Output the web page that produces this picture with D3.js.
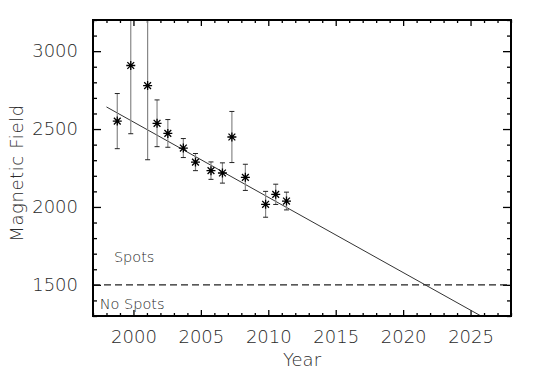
<!DOCTYPE html>
<html>
<head>
<meta charset="utf-8">
<script src="https://cdn.jsdelivr.net/npm/d3@7"></script>
<style>
  body { margin: 0; background: #fff; }
  text { font-family: "DejaVu Sans", sans-serif; font-weight: 200; fill: #2a2a2a; }
  .axis path { display: none; }
  .axis line { stroke: #000; stroke-width: 1.3; }
</style>
</head>
<body>
<div id="wrapper"></div>
<script>
// Data
const years  = [1998.8, 1999.8, 2001.05, 2001.75, 2002.55, 2003.7, 2004.6, 2005.75, 2006.6, 2007.3, 2008.3, 2009.8, 2010.55, 2011.35];
const fields = [2551, 2908, 2779, 2537, 2472, 2378, 2288, 2233, 2218, 2449, 2190, 2017, 2081, 2038];
const errors = [177, 438, 476, 150, 89, 61, 55, 56, 65, 164, 84, 83, 65, 57];

const fitYears  = [1998, 2026.5];
const fitFields = [2642, 1265];

const threshold = 1500;

const xMajorTicks = [2000, 2005, 2010, 2015, 2020, 2025];
const yMajorTicks = [1500, 2000, 2500, 3000];
const xMinorTicks = d3.range(1997, 2029, 1).filter(d => !xMajorTicks.includes(d));
const yMinorTicks = d3.range(1300, 3201, 100).filter(d => !yMajorTicks.includes(d));

function drawChart() {
  const dimensions = {
    width: 550,
    height: 376,
    margin: { top: 20, right: 39, bottom: 60, left: 93 },
  };
  dimensions.boundedWidth = dimensions.width - dimensions.margin.left - dimensions.margin.right;
  dimensions.boundedHeight = dimensions.height - dimensions.margin.top - dimensions.margin.bottom;

  const svg = d3.select("#wrapper")
    .append("svg")
      .attr("width", dimensions.width)
      .attr("height", dimensions.height);

  const bounds = svg.append("g")
    .attr("transform", `translate(${dimensions.margin.left},${dimensions.margin.top})`);

  bounds.append("defs")
    .append("clipPath")
      .attr("id", "plot-clip")
    .append("rect")
      .attr("width", dimensions.boundedWidth)
      .attr("height", dimensions.boundedHeight);

  // scales
  const xScale = d3.scaleLinear()
    .domain([1997, 2028])
    .range([0, dimensions.boundedWidth]);

  const yScale = d3.scaleLinear()
    .domain([1300, 3200])
    .range([dimensions.boundedHeight, 0]);

  // IDL-ish ticks: inward on all four sides
  const xLen = 6, yLen = 8;
  const W = dimensions.boundedWidth, H = dimensions.boundedHeight;

  const addAxis = (gen, transform) => bounds.append("g")
    .attr("class", "axis")
    .attr("transform", transform)
    .call(gen);

  // bottom with labels
  const xAxis = addAxis(d3.axisBottom(xScale).tickValues(xMajorTicks).tickSizeInner(-xLen).tickSizeOuter(0).tickPadding(14).tickFormat(d3.format("d")), `translate(0,${H})`);
  addAxis(d3.axisBottom(xScale).tickValues(xMinorTicks).tickSizeInner(-xLen / 2).tickSizeOuter(0).tickFormat(""), `translate(0,${H})`);
  addAxis(d3.axisTop(xScale).tickValues(xMajorTicks).tickSizeInner(-xLen).tickSizeOuter(0).tickFormat(""), "translate(0,0)");
  addAxis(d3.axisTop(xScale).tickValues(xMinorTicks).tickSizeInner(-xLen / 2).tickSizeOuter(0).tickFormat(""), "translate(0,0)");

  const yAxis = addAxis(d3.axisLeft(yScale).tickValues(yMajorTicks).tickSizeInner(-yLen).tickSizeOuter(0).tickPadding(15).tickFormat(d3.format("d")), "translate(0,0)");
  addAxis(d3.axisLeft(yScale).tickValues(yMinorTicks).tickSizeInner(-yLen / 2).tickSizeOuter(0).tickFormat(""), "translate(0,0)");
  addAxis(d3.axisRight(yScale).tickValues(yMajorTicks).tickSizeInner(-yLen).tickSizeOuter(0).tickFormat(""), `translate(${W},0)`);
  addAxis(d3.axisRight(yScale).tickValues(yMinorTicks).tickSizeInner(-yLen / 2).tickSizeOuter(0).tickFormat(""), `translate(${W},0)`);

  xAxis.selectAll("text").style("font-size", "18px").attr("fill", null);
  yAxis.selectAll("text").style("font-size", "18px").attr("fill", null);

  // threshold line
  bounds.append("line")
    .attr("x1", 0).attr("x2", W)
    .attr("y1", yScale(threshold)).attr("y2", yScale(threshold))
    .attr("stroke", "#222")
    .attr("stroke-width", 1.4)
    .attr("stroke-dasharray", "7,4");

  const plot = bounds.append("g").attr("clip-path", "url(#plot-clip)");

  // fit line
  const lineGenerator = d3.line()
    .x((d, i) => xScale(fitYears[i]))
    .y(d => yScale(d));
  plot.append("path")
    .attr("d", lineGenerator(fitFields))
    .attr("fill", "none")
    .attr("stroke", "#333")
    .attr("stroke-width", 1);

  const points = years.map((y, i) => ({ year: y, field: fields[i], err: errors[i] }));

  // error bars
  const bars = plot.selectAll(".err").data(points).join("g").attr("class", "err");
  bars.append("line")
    .attr("x1", d => xScale(d.year)).attr("x2", d => xScale(d.year))
    .attr("y1", d => yScale(d.field - d.err)).attr("y2", d => yScale(d.field + d.err))
    .attr("stroke", "#888").attr("stroke-width", 1.2);
  bars.selectAll(".cap")
    .data(d => [d.field - d.err, d.field + d.err].map(v => ({ year: d.year, v })))
    .join("line")
      .attr("class", "cap")
      .attr("x1", d => xScale(d.year) - 2.5).attr("x2", d => xScale(d.year) + 2.5)
      .attr("y1", d => yScale(d.v)).attr("y2", d => yScale(d.v))
      .attr("stroke", "#222").attr("stroke-width", 1);

  // asterisk markers
  const r = 4.5, rx = 3.4;
  const star = `M${-r},0H${r}M0,${-r}V${r}M${-rx},${-rx}L${rx},${rx}M${-rx},${rx}L${rx},${-rx}`;
  plot.selectAll(".pt").data(points).join("path")
    .attr("class", "pt")
    .attr("transform", d => `translate(${xScale(d.year)},${yScale(d.field)})`)
    .attr("d", star)
    .attr("fill", "none")
    .attr("stroke", "#000")
    .attr("stroke-width", 1.3);

  // frame
  bounds.append("rect")
    .attr("width", W).attr("height", H)
    .attr("fill", "none")
    .attr("stroke", "#000")
    .attr("stroke-width", 2);

  // region labels
  bounds.append("text")
    .attr("x", xScale(1998.55)).attr("y", yScale(1647))
    .style("font-size", "14.5px")
    .text("Spots");
  bounds.append("text")
    .attr("x", xScale(1997.5)).attr("y", yScale(1346))
    .style("font-size", "14.5px")
    .text("No Spots");

  // axis titles
  svg.append("text")
    .attr("x", dimensions.margin.left + W / 2)
    .attr("y", 366)
    .attr("text-anchor", "middle")
    .style("font-size", "18px")
    .text("Year");
  svg.append("text")
    .attr("transform", `translate(23,${dimensions.margin.top + H / 2 + 5}) rotate(-90)`)
    .attr("text-anchor", "middle")
    .style("font-size", "18px")
    .style("letter-spacing", "0.6px")
    .text("Magnetic Field");
}
drawChart();
</script>
</body>
</html>
